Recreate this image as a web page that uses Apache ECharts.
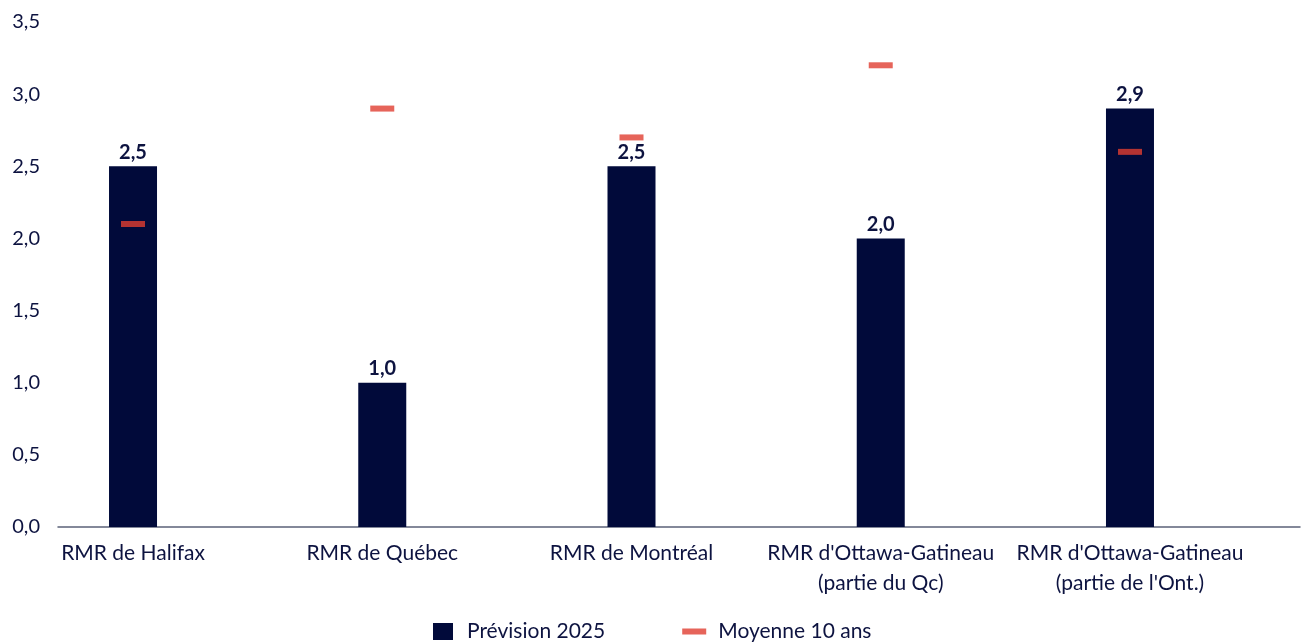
<!DOCTYPE html>
<html>
<head>
<meta charset="utf-8">
<script src="https://cdn.jsdelivr.net/npm/echarts@6/dist/echarts.min.js"></script>
<style>
  html, body { margin: 0; padding: 0; background: #ffffff; }
  #chart { width: 1301px; height: 644px; }
</style>
</head>
<body>
<div id="chart"></div>
<script>
// Regions and values
const categories = [
  "RMR de Halifax",
  "RMR de Québec",
  "RMR de Montréal",
  "RMR d'Ottawa-Gatineau\n(partie du Qc)",
  "RMR d'Ottawa-Gatineau\n(partie de l'Ont.)"
];
const prevision2025 = [2.5, 1.0, 2.5, 2.0, 2.9];
const moyenne10ans = [2.1, 2.9, 2.7, 3.2, 2.6];
const seriesNames = ["Prévision 2025", "Moyenne 10 ans"];
const yTicks = { min: 0, max: 3.5, interval: 0.5 };

const NAVY = '#010a3a';
const TEXT = '#0d1340';
const RED = '#e03d31';
const FONT = 'Lato, "DejaVu Sans", sans-serif';

const fmt = v => Number(v).toFixed(1).replace('.', ',');

const chart = echarts.init(document.getElementById('chart'), null, { renderer: 'canvas' });

chart.setOption({
  animation: false,
  textStyle: { fontFamily: FONT, color: TEXT },
  grid: [
    // plot grid for the bars and markers
    { left: 8.4, right: 46.4, top: 22, bottom: 117, containLabel: false },
    // frame grid carrying the value axis and the baseline
    { left: 58, right: 1, top: 22, bottom: 117, containLabel: false }
  ],
  xAxis: [
    {
      type: 'category', gridIndex: 0, data: categories,
      axisLine: { show: false }, axisTick: { show: false },
      axisLabel: {
        interval: 0, margin: 11, fontSize: 21, color: TEXT,
        fontFamily: FONT, lineHeight: 30, align: 'center'
      }
    },
    {
      type: 'category', gridIndex: 1, data: [''],
      axisLine: { show: true, lineStyle: { color: '#5b6178', width: 1.5 } },
      axisTick: { show: false }, axisLabel: { show: false }
    }
  ],
  yAxis: [
    {
      type: 'value', gridIndex: 0, min: yTicks.min, max: yTicks.max, interval: yTicks.interval,
      show: false, splitLine: { show: false }
    },
    {
      type: 'value', gridIndex: 1, min: yTicks.min, max: yTicks.max, interval: yTicks.interval,
      axisLine: { show: false }, axisTick: { show: false }, splitLine: { show: false },
      axisLabel: { margin: 18, fontSize: 20, color: TEXT, fontFamily: FONT, formatter: fmt }
    }
  ],
  legend: {
    left: 428, bottom: -3,
    itemWidth: 24, itemHeight: 17, itemGap: 77,
    symbolKeepAspect: true,
    textStyle: { fontSize: 21, color: TEXT, fontFamily: FONT, padding: [0, 0, 0, 7] },
    data: [
      { name: seriesNames[0], icon: 'path://M0,0h20v17h-20z' },
      { name: seriesNames[1], icon: 'path://M0,0h24v6h-24z' }
    ]
  },
  series: [
    {
      name: seriesNames[0], type: 'bar', xAxisIndex: 0, yAxisIndex: 0,
      data: prevision2025, barWidth: 48,
      itemStyle: { color: NAVY },
      label: {
        show: true, position: 'top', distance: 4,
        fontSize: 20, fontWeight: 'bold', color: TEXT, fontFamily: FONT,
        formatter: p => fmt(p.value)
      },
      z: 2
    },
    {
      name: seriesNames[1], type: 'scatter', xAxisIndex: 0, yAxisIndex: 0,
      data: moyenne10ans, symbol: 'rect', symbolSize: [24, 6],
      itemStyle: { color: RED },
      z: 3
    }
  ]
});
</script>
</body>
</html>
